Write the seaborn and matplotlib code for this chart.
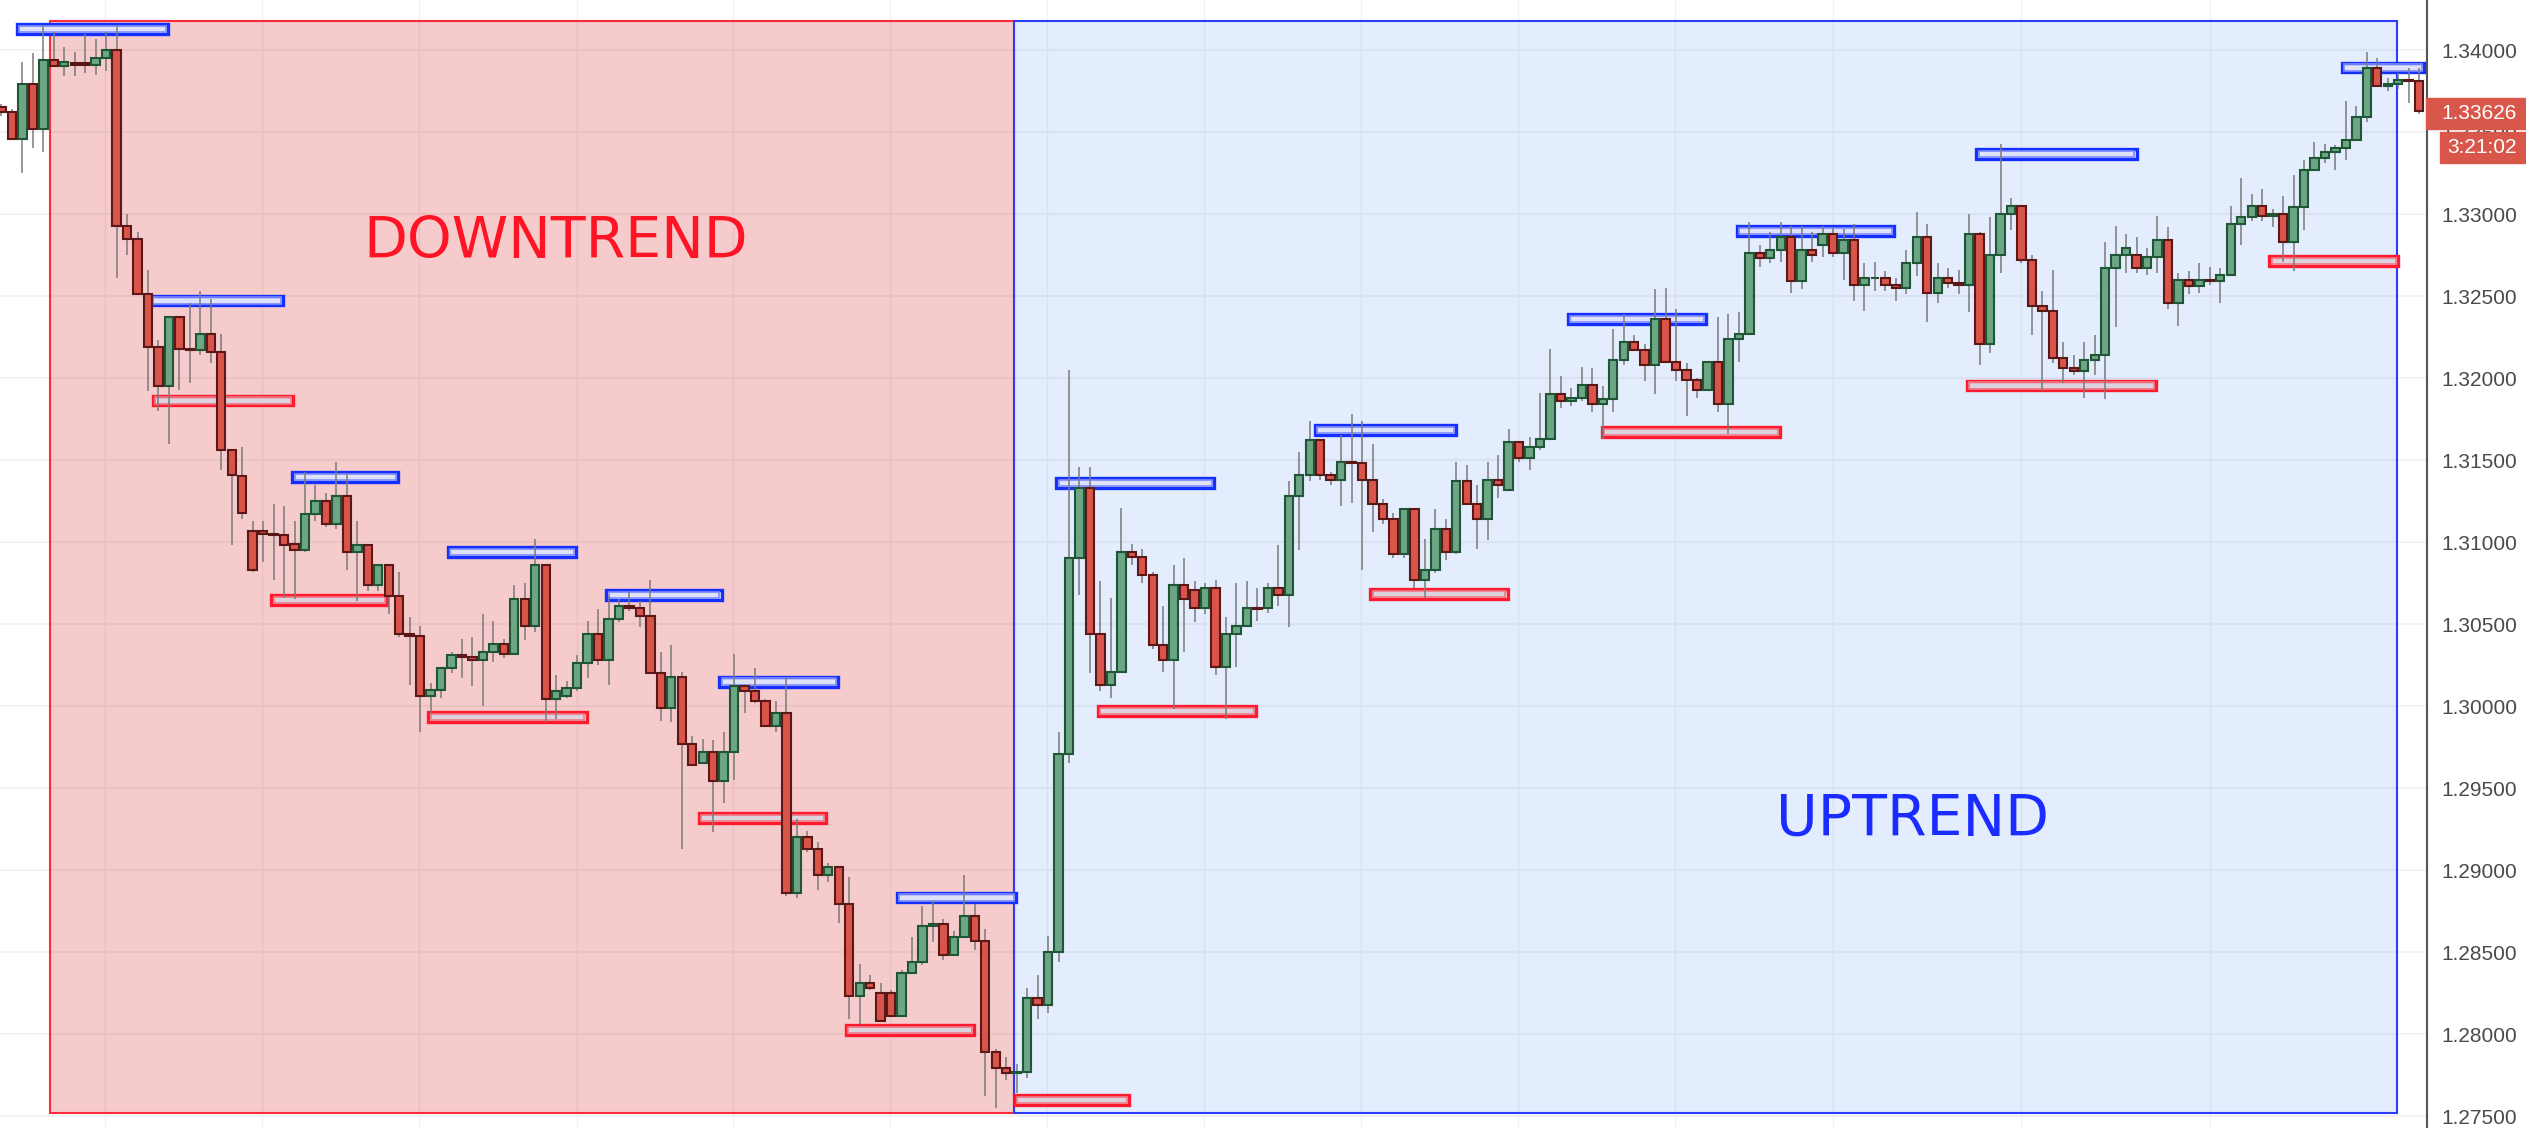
import matplotlib
matplotlib.use("Agg")
import matplotlib.pyplot as plt
from matplotlib.patches import Rectangle
import numpy as np
import seaborn as sns

# OHLC candles (oldest first)
opens = [
    1.3365, 1.3362, 1.3346, 1.3379, 1.3352, 1.3394, 1.3390, 1.3392, 1.3392, 1.3391,
    1.3395, 1.3400, 1.3293, 1.3285, 1.3251, 1.3219, 1.3195, 1.3237, 1.3218, 1.3217,
    1.3227, 1.3216, 1.3156, 1.3140, 1.3107, 1.3107, 1.3105, 1.3104, 1.3099, 1.3095,
    1.3117, 1.3125, 1.3111, 1.3128, 1.3094, 1.3098, 1.3074, 1.3086, 1.3067, 1.3044,
    1.3043, 1.3006, 1.3010, 1.3023, 1.3031, 1.3030, 1.3028, 1.3033, 1.3038, 1.3032,
    1.3065, 1.3049, 1.3086, 1.3004, 1.3006, 1.3011, 1.3026, 1.3044, 1.3028, 1.3053,
    1.3061, 1.3060, 1.3055, 1.3020, 1.2999, 1.3018, 1.2977, 1.2965, 1.2972, 1.2954,
    1.2972, 1.3012, 1.3009, 1.3003, 1.2988, 1.2996, 1.2886, 1.2920, 1.2913, 1.2897,
    1.2902, 1.2879, 1.2823, 1.2831, 1.2825, 1.2825, 1.2811, 1.2837, 1.2844, 1.2866,
    1.2867, 1.2848, 1.2859, 1.2872, 1.2857, 1.2789, 1.2779, 1.2776, 1.2777, 1.2822,
    1.2818, 1.2850, 1.2971, 1.3090, 1.3133, 1.3044, 1.3013, 1.3021, 1.3094, 1.3091,
    1.3080, 1.3037, 1.3028, 1.3074, 1.3071, 1.3060, 1.3072, 1.3024, 1.3044, 1.3049,
    1.3060, 1.3060, 1.3072, 1.3068, 1.3128, 1.3141, 1.3162, 1.3141, 1.3138, 1.3149,
    1.3148, 1.3138, 1.3123, 1.3114, 1.3093, 1.3120, 1.3077, 1.3083, 1.3108, 1.3094,
    1.3137, 1.3123, 1.3114, 1.3138, 1.3132, 1.3161, 1.3151, 1.3158, 1.3163, 1.3190,
    1.3186, 1.3188, 1.3196, 1.3184, 1.3187, 1.3211, 1.3222, 1.3217, 1.3208, 1.3236,
    1.3210, 1.3205, 1.3199, 1.3193, 1.3210, 1.3184, 1.3224, 1.3227, 1.3276, 1.3273,
    1.3278, 1.3286, 1.3259, 1.3278, 1.3281, 1.3288, 1.3276, 1.3284, 1.3257, 1.3261,
    1.3261, 1.3257, 1.3255, 1.3270, 1.3286, 1.3252, 1.3261, 1.3258, 1.3257, 1.3288,
    1.3221, 1.3275, 1.3300, 1.3305, 1.3272, 1.3244, 1.3241, 1.3212, 1.3206, 1.3204,
    1.3211, 1.3214, 1.3267, 1.3275, 1.3275, 1.3267, 1.3274, 1.3284, 1.3246, 1.3260,
    1.3256, 1.3260, 1.3259, 1.3263, 1.3294, 1.3298, 1.3305, 1.3299, 1.3300, 1.3283,
    1.3304, 1.3327, 1.3334, 1.3338, 1.3340, 1.3345, 1.3359, 1.3389, 1.3378, 1.3379,
    1.3382, 1.3381,
]
highs = [
    1.3367, 1.3364, 1.3393, 1.3398, 1.3415, 1.3411, 1.3402, 1.3399, 1.3410, 1.3407,
    1.3411, 1.3415, 1.3300, 1.3289, 1.3266, 1.3223, 1.3238, 1.3238, 1.3246, 1.3253,
    1.3248, 1.3227, 1.3157, 1.3158, 1.3113, 1.3113, 1.3123, 1.3122, 1.3113, 1.3143,
    1.3135, 1.3130, 1.3149, 1.3142, 1.3113, 1.3099, 1.3086, 1.3086, 1.3082, 1.3054,
    1.3049, 1.3014, 1.3023, 1.3033, 1.3041, 1.3042, 1.3056, 1.3052, 1.3041, 1.3074,
    1.3075, 1.3102, 1.3086, 1.3019, 1.3015, 1.3031, 1.3052, 1.3059, 1.3067, 1.3065,
    1.3070, 1.3064, 1.3077, 1.3033, 1.3037, 1.3021, 1.2982, 1.2980, 1.2979, 1.2984,
    1.3032, 1.3013, 1.3023, 1.3004, 1.3003, 1.3017, 1.2931, 1.2924, 1.2917, 1.2904,
    1.2902, 1.2896, 1.2843, 1.2836, 1.2831, 1.2827, 1.2839, 1.2859, 1.2878, 1.2881,
    1.2870, 1.2863, 1.2897, 1.2879, 1.2864, 1.2791, 1.2786, 1.2782, 1.2828, 1.2836,
    1.2860, 1.2984, 1.3205, 1.3146, 1.3146, 1.3076, 1.3066, 1.3121, 1.3099, 1.3096,
    1.3082, 1.3061, 1.3086, 1.3090, 1.3076, 1.3075, 1.3077, 1.3054, 1.3075, 1.3076,
    1.3072, 1.3075, 1.3098, 1.3137, 1.3155, 1.3174, 1.3162, 1.3143, 1.3165, 1.3178,
    1.3174, 1.3160, 1.3126, 1.3118, 1.3121, 1.3120, 1.3102, 1.3120, 1.3114, 1.3149,
    1.3147, 1.3135, 1.3149, 1.3153, 1.3169, 1.3161, 1.3164, 1.3191, 1.3218, 1.3201,
    1.3194, 1.3207, 1.3206, 1.3195, 1.3230, 1.3239, 1.3226, 1.3221, 1.3254, 1.3255,
    1.3242, 1.3209, 1.3200, 1.3210, 1.3237, 1.3239, 1.3240, 1.3295, 1.3281, 1.3289,
    1.3295, 1.3293, 1.3293, 1.3289, 1.3293, 1.3292, 1.3291, 1.3294, 1.3270, 1.3271,
    1.3265, 1.3261, 1.3278, 1.3301, 1.3294, 1.3270, 1.3267, 1.3266, 1.3300, 1.3289,
    1.3298, 1.3343, 1.3310, 1.3305, 1.3275, 1.3253, 1.3266, 1.3222, 1.3214, 1.3222,
    1.3226, 1.3283, 1.3293, 1.3288, 1.3286, 1.3279, 1.3299, 1.3292, 1.3264, 1.3265,
    1.3270, 1.3268, 1.3267, 1.3305, 1.3322, 1.3312, 1.3315, 1.3303, 1.3311, 1.3324,
    1.3333, 1.3344, 1.3343, 1.3342, 1.3369, 1.3366, 1.3399, 1.3395, 1.3383, 1.3386,
    1.3389, 1.3389,
]
lows = [
    1.3360, 1.3346, 1.3325, 1.3340, 1.3338, 1.3390, 1.3384, 1.3384, 1.3386, 1.3385,
    1.3387, 1.3261, 1.3275, 1.3251, 1.3192, 1.3180, 1.3160, 1.3193, 1.3197, 1.3214,
    1.3209, 1.3144, 1.3098, 1.3114, 1.3082, 1.3088, 1.3077, 1.3066, 1.3065, 1.3094,
    1.3113, 1.3109, 1.3108, 1.3083, 1.3064, 1.3070, 1.3070, 1.3056, 1.3042, 1.3013,
    1.2984, 1.2995, 1.3005, 1.3020, 1.3017, 1.3012, 1.3000, 1.3027, 1.3029, 1.3032,
    1.3040, 1.3045, 1.2990, 1.2992, 1.3005, 1.3009, 1.3017, 1.3025, 1.3013, 1.3051,
    1.3058, 1.3048, 1.3020, 1.2991, 1.2990, 1.2913, 1.2964, 1.2965, 1.2923, 1.2941,
    1.2955, 1.2996, 1.3002, 1.2988, 1.2984, 1.2884, 1.2883, 1.2911, 1.2888, 1.2893,
    1.2868, 1.2809, 1.2806, 1.2827, 1.2808, 1.2811, 1.2811, 1.2837, 1.2842, 1.2856,
    1.2845, 1.2848, 1.2859, 1.2851, 1.2762, 1.2755, 1.2772, 1.2764, 1.2773, 1.2809,
    1.2813, 1.2844, 1.2965, 1.3068, 1.3020, 1.3009, 1.3005, 1.3021, 1.3086, 1.3075,
    1.3035, 1.3021, 1.2998, 1.3033, 1.3051, 1.3056, 1.3019, 1.2992, 1.3024, 1.3049,
    1.3052, 1.3057, 1.3061, 1.3048, 1.3095, 1.3137, 1.3138, 1.3135, 1.3122, 1.3124,
    1.3083, 1.3106, 1.3111, 1.3090, 1.3090, 1.3072, 1.3066, 1.3081, 1.3089, 1.3093,
    1.3123, 1.3096, 1.3101, 1.3127, 1.3132, 1.3149, 1.3144, 1.3156, 1.3162, 1.3182,
    1.3183, 1.3186, 1.3179, 1.3163, 1.3179, 1.3208, 1.3217, 1.3198, 1.3190, 1.3210,
    1.3198, 1.3177, 1.3188, 1.3193, 1.3179, 1.3166, 1.3210, 1.3226, 1.3268, 1.3270,
    1.3271, 1.3252, 1.3254, 1.3271, 1.3274, 1.3274, 1.3260, 1.3247, 1.3241, 1.3253,
    1.3253, 1.3247, 1.3251, 1.3262, 1.3234, 1.3246, 1.3255, 1.3251, 1.3240, 1.3208,
    1.3215, 1.3264, 1.3290, 1.3270, 1.3226, 1.3192, 1.3209, 1.3197, 1.3202, 1.3188,
    1.3202, 1.3187, 1.3231, 1.3264, 1.3264, 1.3263, 1.3264, 1.3242, 1.3232, 1.3251,
    1.3252, 1.3257, 1.3246, 1.3263, 1.3281, 1.3296, 1.3296, 1.3292, 1.3271, 1.3265,
    1.3290, 1.3326, 1.3331, 1.3327, 1.3333, 1.3345, 1.3356, 1.3378, 1.3375, 1.3376,
    1.3368, 1.3361,
]
closes = [
    1.3362, 1.3346, 1.3379, 1.3352, 1.3394, 1.3390, 1.3393, 1.3391, 1.3391, 1.3395,
    1.3400, 1.3293, 1.3285, 1.3251, 1.3219, 1.3195, 1.3237, 1.3218, 1.3217, 1.3227,
    1.3216, 1.3156, 1.3141, 1.3118, 1.3083, 1.3105, 1.3104, 1.3098, 1.3095, 1.3117,
    1.3125, 1.3111, 1.3128, 1.3094, 1.3098, 1.3074, 1.3086, 1.3067, 1.3044, 1.3043,
    1.3006, 1.3010, 1.3023, 1.3031, 1.3030, 1.3028, 1.3033, 1.3038, 1.3032, 1.3065,
    1.3049, 1.3086, 1.3004, 1.3009, 1.3011, 1.3026, 1.3044, 1.3028, 1.3053, 1.3061,
    1.3060, 1.3055, 1.3020, 1.2999, 1.3018, 1.2977, 1.2964, 1.2972, 1.2954, 1.2972,
    1.3012, 1.3009, 1.3003, 1.2988, 1.2996, 1.2886, 1.2920, 1.2913, 1.2897, 1.2902,
    1.2879, 1.2823, 1.2831, 1.2828, 1.2808, 1.2811, 1.2837, 1.2844, 1.2866, 1.2867,
    1.2848, 1.2859, 1.2872, 1.2857, 1.2789, 1.2779, 1.2776, 1.2777, 1.2822, 1.2818,
    1.2850, 1.2971, 1.3090, 1.3133, 1.3044, 1.3013, 1.3021, 1.3094, 1.3091, 1.3080,
    1.3037, 1.3028, 1.3074, 1.3065, 1.3060, 1.3072, 1.3024, 1.3044, 1.3049, 1.3060,
    1.3059, 1.3072, 1.3068, 1.3128, 1.3141, 1.3162, 1.3141, 1.3138, 1.3149, 1.3148,
    1.3138, 1.3123, 1.3114, 1.3093, 1.3120, 1.3077, 1.3083, 1.3108, 1.3094, 1.3137,
    1.3123, 1.3114, 1.3138, 1.3135, 1.3161, 1.3151, 1.3158, 1.3163, 1.3190, 1.3186,
    1.3188, 1.3196, 1.3184, 1.3187, 1.3211, 1.3222, 1.3217, 1.3208, 1.3236, 1.3210,
    1.3205, 1.3199, 1.3193, 1.3210, 1.3184, 1.3224, 1.3227, 1.3276, 1.3273, 1.3278,
    1.3286, 1.3259, 1.3278, 1.3275, 1.3288, 1.3276, 1.3284, 1.3257, 1.3261, 1.3261,
    1.3257, 1.3255, 1.3270, 1.3286, 1.3252, 1.3261, 1.3258, 1.3257, 1.3288, 1.3221,
    1.3275, 1.3300, 1.3305, 1.3272, 1.3244, 1.3241, 1.3212, 1.3206, 1.3204, 1.3211,
    1.3214, 1.3267, 1.3275, 1.3279, 1.3267, 1.3274, 1.3284, 1.3246, 1.3260, 1.3256,
    1.3260, 1.3259, 1.3263, 1.3294, 1.3298, 1.3305, 1.3299, 1.3300, 1.3283, 1.3304,
    1.3327, 1.3334, 1.3338, 1.3340, 1.3345, 1.3359, 1.3389, 1.3378, 1.3379, 1.3382,
    1.3381, 1.3363,
]

price_ticks = [1.275, 1.280, 1.285, 1.290, 1.295, 1.300, 1.305,
               1.310, 1.315, 1.320, 1.325, 1.330, 1.335, 1.340]
last_price = "1.33626"
countdown = "3:21:02"

# trend zones: candle index span and price span
down_zone = (4.6, 96.7, 1.2752, 1.3418)
up_zone = (96.7, 228.9, 1.2752, 1.3418)

# swing high markers (blue) and swing low markers (red): start, end, level
highs_start = [1.5, 14.3, 27.8, 42.7, 57.8, 68.6, 85.6, 100.8, 125.5, 149.7, 165.8, 188.7, 223.6]
highs_end = [15.9, 26.9, 37.9, 54.9, 68.8, 79.9, 96.9, 115.9, 139.0, 162.9, 180.8, 204.0, 231.5]
highs_level = [1.34128, 1.32473, 1.31396, 1.30939, 1.30677, 1.30149, 1.28832,
               1.31360, 1.31683, 1.32360, 1.32896, 1.33366, 1.33893]
lows_start = [14.5, 25.8, 40.8, 66.6, 80.7, 96.8, 104.8, 130.8, 152.9, 187.8, 216.7]
lows_end = [27.9, 36.8, 55.9, 78.8, 92.9, 107.7, 119.9, 143.9, 169.9, 205.9, 229.0]
lows_level = [1.31863, 1.30646, 1.29933, 1.29317, 1.28024, 1.27598, 1.29970,
              1.30683, 1.31671, 1.31954, 1.32713]

W, H = 2526, 1128
sns.set_theme(style="white")
plt.rcParams['font.family'] = ['DejaVu Sans']

fig = plt.figure(figsize=(W / 100, H / 100), dpi=100)
ax = fig.add_axes([0, 0, 2427 / W, 1])

o = np.array(opens)
c = np.array(closes)
x = np.arange(len(o))
up = c >= o

# grid
for gx in [9.9, 24.9, 39.9, 55, 69.9, 84.9, 99.9, 114.9, 129.9, 144.9, 159.9, 175, 193, 211]:
    ax.axvline(gx, color='#f1f1f1', lw=1.0, zorder=0)
for p in price_ticks:
    ax.axhline(p, color='#efefef', lw=1.1, zorder=0)

# zones
x0, x1, y0, y1 = down_zone
ax.add_patch(Rectangle((x0, y0), x1 - x0, y1 - y0, facecolor=(0.86, 0.12, 0.15, 0.23),
                       edgecolor='#ff2a3c', lw=1.5, zorder=1))
x0, x1, y0, y1 = up_zone
ax.add_patch(Rectangle((x0, y0), x1 - x0, y1 - y0, facecolor=(0.2, 0.48, 0.95, 0.13),
                       edgecolor='#2a3cff', lw=1.5, zorder=1))

# swing markers: strong outline with a lighter inner band
bh = 0.00060
dx, dy = 0.2, 0.00011
for s, e, lv in zip(highs_start, highs_end, highs_level):
    ax.add_patch(Rectangle((s, lv - bh / 2), e - s, bh, facecolor='#dde2f8',
                           edgecolor='#1430ff', lw=2.4, zorder=2))
    ax.add_patch(Rectangle((s + dx, lv - bh / 2 + dy), e - s - 2 * dx, bh - 2 * dy,
                           facecolor='none', edgecolor='#7f8cff', lw=1.2, zorder=2))
for s, e, lv in zip(lows_start, lows_end, lows_level):
    ax.add_patch(Rectangle((s, lv - bh / 2), e - s, bh, facecolor='#ddd3df',
                           edgecolor='#ff1a2e', lw=2.4, zorder=2))
    ax.add_patch(Rectangle((s + dx, lv - bh / 2 + dy), e - s - 2 * dx, bh - 2 * dy,
                           facecolor='none', edgecolor='#f07a88', lw=1.2, zorder=2))

# candles
ax.vlines(x, lows, highs, color='#7a7a7a', lw=1.1, zorder=3)
ax.bar(x[up], (c - o)[up], bottom=o[up], width=0.8, color='#6ca685',
       edgecolor='#1f5636', linewidth=1.5, zorder=4)
ax.bar(x[~up], (o - c)[~up], bottom=c[~up], width=0.8, color='#d9544a',
       edgecolor='#5a1816', linewidth=1.5, zorder=4)

ax.text(0.229, 0.785, "DOWNTREND", transform=ax.transAxes, color='#ff1426',
        fontsize=41, ha='center', va='center', zorder=5)
ax.text(0.788, 0.273, "UPTREND", transform=ax.transAxes, color='#1a2cff',
        fontsize=41, ha='center', va='center', zorder=5)

ax.set_xlim(-0.14, 231.75)
ax.set_ylim(1.27427, 1.34305)
ax.set_xticks([])
ax.yaxis.tick_right()
ax.set_yticks(price_ticks)
ax.set_yticklabels([f"{p:.5f}" for p in price_ticks], family='Liberation Sans',
                   fontsize=15, color='#4a4a4a')
ax.tick_params(axis='y', right=True, length=5, width=1.1, color='#555555', pad=5)
sns.despine(ax=ax, left=True, top=True, bottom=True, right=False)
ax.spines['right'].set_color('#555555')
ax.spines['right'].set_linewidth(1.5)
ax.set_facecolor('white')

# price tag and countdown on the scale (they cover the 1.33500 label, as in the source)
fig.patches.append(Rectangle((2426 / W, 1 - 129 / H), 100 / W, 31 / H,
                             transform=fig.transFigure, color='#d9574a', zorder=10))
fig.patches.append(Rectangle((2440 / W, 1 - 163 / H), 86 / W, 31 / H,
                             transform=fig.transFigure, color='#d9574a', zorder=10))
fig.text(2441 / W, 1 - 113.5 / H, last_price, color='white', fontsize=15,
         family='Liberation Sans', va='center', ha='left', zorder=11)
fig.text(2447 / W, 1 - 147.5 / H, countdown, color='white', fontsize=15,
         family='Liberation Sans', va='center', ha='left', zorder=11)

fig.savefig("out.png", dpi=100, facecolor='white')
